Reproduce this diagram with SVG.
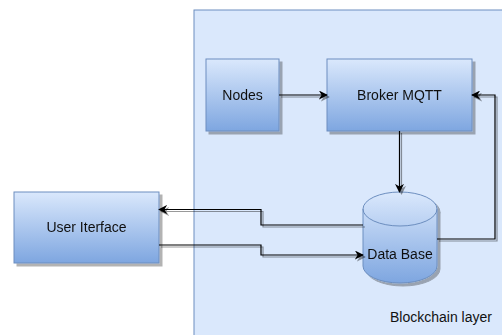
<svg xmlns="http://www.w3.org/2000/svg" width="502" height="335" viewBox="0 0 502 335">
  <defs>
    <linearGradient id="blueFill" x1="0" y1="0" x2="0" y2="1">
      <stop offset="0" stop-color="#dae8fc"/>
      <stop offset="1" stop-color="#7ea6e0"/>
    </linearGradient>
    <filter id="shadow" x="-10%" y="-10%" width="130%" height="130%">
      <feGaussianBlur in="SourceAlpha" stdDeviation="0.6" result="blur"/>
      <feOffset in="blur" dx="3" dy="3" result="off"/>
      <feComponentTransfer in="off" result="soft">
        <feFuncA type="linear" slope="0.3"/>
      </feComponentTransfer>
      <feMerge>
        <feMergeNode in="soft"/>
        <feMergeNode in="SourceGraphic"/>
      </feMerge>
    </filter>
    <filter id="lineShadow" x="-5%" y="-5%" width="115%" height="115%">
      <feOffset in="SourceAlpha" dx="2" dy="2" result="off"/>
      <feComponentTransfer in="off" result="soft">
        <feFuncA type="linear" slope="0.4"/>
      </feComponentTransfer>
      <feMerge>
        <feMergeNode in="soft"/>
        <feMergeNode in="SourceGraphic"/>
      </feMerge>
    </filter>
    <marker id="arrow" viewBox="0 0 10 10" refX="9" refY="5" markerWidth="9" markerHeight="9" markerUnits="userSpaceOnUse" orient="auto">
      <path d="M0,0 L10,5 L0,10 L3,5 Z" fill="#000"/>
    </marker>
  </defs>
  <style>
    .box { fill: url(#blueFill); stroke: #6c8ebf; stroke-width: 1; }
    .label { font-family: "Liberation Sans", Arial, sans-serif; font-size: 14px; fill: #111111; text-anchor: middle; }
    .edge { fill: none; stroke: #000; stroke-width: 1.2; }
  </style>

  <rect x="0" y="0" width="502" height="335" fill="#ffffff"/>

  <!-- Blockchain layer container -->
  <g id="blockchain-layer">
    <rect x="194" y="10" width="320" height="340" fill="#dae8fc" stroke="#6c8ebf" stroke-width="1"/>
    <text class="label" x="441" y="322">Blockchain layer</text>
  </g>

  <g id="nodes" filter="url(#shadow)">
    <rect class="box" x="206" y="59" width="73" height="72"/>
    <text class="label" x="242.5" y="100">Nodes</text>
  </g>

  <g id="broker-mqtt" filter="url(#shadow)">
    <rect class="box" x="327" y="59" width="145" height="72"/>
    <text class="label" x="399.5" y="100">Broker MQTT</text>
  </g>

  <g id="user-interface" filter="url(#shadow)">
    <rect class="box" x="14" y="192" width="145" height="71"/>
    <text class="label" x="86.5" y="232">User Iterface</text>
  </g>

  <g id="data-base" filter="url(#shadow)">
    <path class="box" d="M363,209 A37,17 0 0 1 437,209 L437,266 A37,17 0 0 1 363,266 Z"/>
    <path d="M363,209 A37,17 0 0 0 437,209" fill="none" stroke="#6c8ebf" stroke-width="1"/>
    <text class="label" x="400" y="259">Data Base</text>
  </g>

  <!-- Connectors -->
  <g id="connectors" filter="url(#lineShadow)">
    <path class="edge" d="M279,95 H327" marker-end="url(#arrow)"/>
    <path class="edge" d="M399.5,131 V192" marker-end="url(#arrow)"/>
    <path class="edge" d="M437,239 H495 V95 H472" marker-end="url(#arrow)"/>
    <path class="edge" d="M363,225 H261 V209.5 H159" marker-end="url(#arrow)"/>
    <path class="edge" d="M159,245 H261 V255 H363" marker-end="url(#arrow)"/>
  </g>
</svg>
